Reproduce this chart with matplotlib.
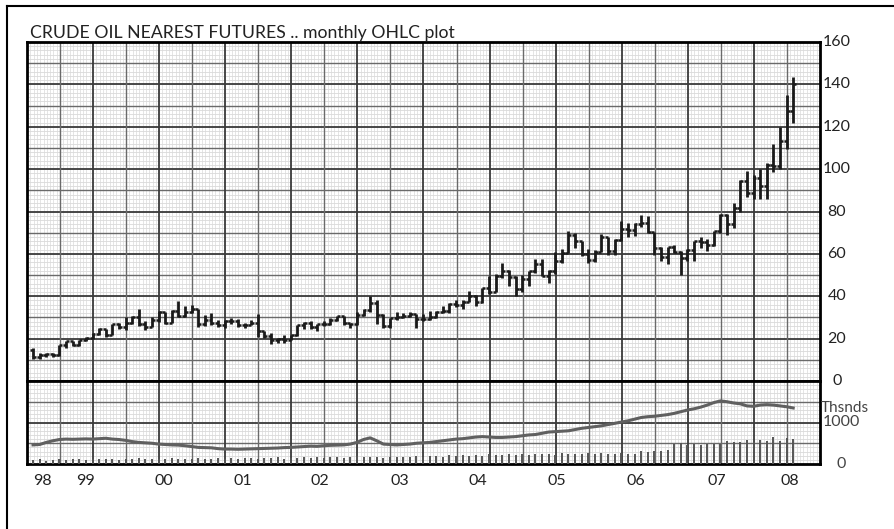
import numpy as np
import matplotlib
matplotlib.use('Agg')
import matplotlib.pyplot as plt
from matplotlib.lines import Line2D

plt.rcParams['font.family'] = ['Lato', 'DejaVu Sans']

# monthly OHLC, Nov 1998 .. Jun 2008
opens = [14.5, 11.2,
         12.1, 12.7, 12.3, 16.8, 18.7, 16.8, 19.3, 20.5, 22.1, 24.5, 21.8, 26.8,
         25.6, 27.6, 30.4, 26.9, 25.7, 29.0, 32.5, 27.4, 33.1, 30.8, 32.7, 33.8,
         26.8, 28.7, 27.4, 26.3, 28.5, 28.4, 26.3, 26.4, 27.2, 23.4, 21.2, 19.4,
         19.8, 19.5, 21.7, 26.3, 27.3, 25.3, 26.9, 27.0, 29.0, 30.5, 27.2, 26.9,
         31.2, 33.5, 36.6, 31.0, 25.8, 29.6, 30.2, 30.5, 31.6, 29.2, 29.1, 30.4,
         32.5, 33.1, 36.2, 35.8, 37.4, 39.9, 37.1, 43.8, 42.1, 49.6, 51.8, 49.1,
         43.5, 48.2, 51.8, 55.4, 49.7, 52.0, 56.5, 60.6, 68.9, 66.2, 59.8, 57.3,
         61.0, 67.9, 61.4, 66.6, 71.9, 71.3, 73.9, 74.4, 70.3, 62.9, 58.7, 63.1,
         61.1, 58.1, 61.8, 65.9, 65.7, 64.0, 70.7, 78.2, 74.0, 81.7, 94.5, 88.7,
         96.0, 91.8, 101.8, 101.6, 113.5, 127.4]
highs = [15.6, 13.0,
         13.3, 13.0, 16.9, 18.9, 18.8, 19.4, 20.8, 22.5, 25.0, 24.6, 27.0, 27.2,
         30.0, 30.9, 34.1, 28.4, 30.0, 33.0, 32.8, 33.4, 37.8, 35.6, 35.9, 34.2,
         31.0, 32.2, 28.8, 28.8, 29.8, 29.2, 27.6, 28.7, 31.5, 23.6, 22.6, 20.5,
         21.8, 21.8, 26.4, 27.9, 28.4, 27.0, 28.2, 29.9, 30.8, 30.9, 27.4, 32.7,
         34.0, 40.0, 38.0, 31.5, 29.9, 32.4, 32.1, 32.8, 31.8, 31.7, 33.1, 33.2,
         35.3, 37.0, 38.4, 38.2, 42.3, 40.6, 44.1, 49.4, 50.5, 55.7, 52.3, 49.5,
         49.9, 52.1, 57.6, 57.7, 52.6, 60.9, 62.3, 70.9, 69.8, 66.3, 62.1, 61.9,
         69.2, 68.1, 67.2, 75.4, 74.8, 74.4, 78.4, 77.7, 70.4, 63.1, 63.2, 64.0,
         61.2, 62.2, 66.3, 68.1, 66.8, 70.9, 78.8, 78.8, 84.1, 94.7, 99.3, 97.0,
         100.1, 103.0, 111.8, 119.9, 135.1, 143.7]
lows = [10.4, 10.5,
        11.3, 11.4, 12.0, 15.7, 16.5, 16.5, 18.9, 19.8, 21.5, 20.7, 21.6, 24.5,
        24.2, 27.1, 26.0, 23.9, 25.5, 28.0, 27.1, 27.2, 30.0, 30.2, 32.0, 25.3,
        25.9, 26.5, 25.3, 24.8, 26.7, 25.5, 24.9, 26.2, 21.0, 20.5, 17.5, 17.8,
        17.9, 19.3, 21.2, 24.5, 24.7, 23.8, 25.8, 26.2, 28.5, 26.6, 25.0, 26.3,
        30.5, 32.8, 26.8, 24.8, 25.1, 28.7, 29.6, 30.0, 25.0, 28.2, 28.8, 29.7,
        32.3, 32.0, 35.0, 33.8, 37.1, 35.2, 37.0, 41.0, 42.1, 48.4, 45.0, 40.3,
        42.1, 45.0, 51.0, 49.5, 46.2, 50.6, 55.7, 60.3, 62.8, 59.0, 55.9, 56.3,
        60.8, 59.3, 59.7, 66.3, 68.0, 68.3, 72.5, 69.9, 59.5, 56.6, 55.3, 60.5,
        49.9, 56.8, 56.6, 62.9, 61.3, 63.8, 69.9, 69.0, 72.2, 79.8, 87.0, 85.9,
        86.1, 86.1, 98.7, 100.0, 109.7, 122.0]
closes = [11.2, 12.1,
          12.7, 12.3, 16.8, 18.7, 16.8, 19.3, 20.5, 22.1, 24.5, 21.8, 26.8, 25.6,
          27.6, 30.4, 26.9, 25.7, 29.0, 32.5, 27.4, 33.1, 30.8, 32.7, 33.8, 26.8,
          28.7, 27.4, 26.3, 28.5, 28.4, 26.3, 26.4, 27.2, 23.4, 21.2, 19.4, 19.8,
          19.5, 21.7, 26.3, 27.3, 25.3, 26.9, 27.0, 29.0, 30.5, 27.2, 26.9, 31.2,
          33.5, 36.6, 31.0, 25.8, 29.6, 30.2, 30.5, 31.6, 29.2, 29.1, 30.4, 32.5,
          33.1, 36.2, 35.8, 37.4, 39.9, 37.1, 43.8, 42.1, 49.6, 51.8, 49.1, 43.5,
          48.2, 51.8, 55.4, 49.7, 52.0, 56.5, 60.6, 68.9, 66.2, 59.8, 57.3, 61.0,
          67.9, 61.4, 66.6, 71.9, 71.3, 73.9, 74.4, 70.3, 62.9, 58.7, 63.1, 61.1,
          58.1, 61.8, 65.9, 65.7, 64.0, 70.7, 78.2, 74.0, 81.7, 94.5, 88.7, 96.0,
          91.8, 101.8, 101.6, 113.5, 127.4, 140.0]

# open interest and volume, thousands
open_int = [460, 470, 520, 560, 590, 600, 595, 600, 605, 600, 610, 620,
            600, 590, 570, 540, 520, 510, 500, 480, 470, 460, 455, 440,
            420, 400, 395, 390, 370, 360, 360, 355, 360, 365, 370, 375,
            380, 385, 395, 400, 410, 420, 430, 425, 440, 450, 455, 460,
            480, 520, 590, 630, 560, 480, 470, 460, 470, 480, 500, 510,
            520, 540, 560, 580, 600, 610, 630, 650, 660, 650, 640, 640,
            650, 660, 680, 700, 710, 740, 770, 780, 790, 800, 830, 860,
            880, 900, 920, 950, 980, 1010, 1040, 1080, 1120, 1140, 1150, 1170,
            1190, 1220, 1260, 1300, 1330, 1370, 1420, 1480, 1520, 1500, 1470, 1450,
            1400, 1390, 1420, 1430, 1420, 1400, 1380, 1350]
volume = [90, 110, 80, 100, 120, 90, 110, 130, 100, 120, 110, 130,
          120, 100, 130, 110, 140, 120, 110, 130, 120, 140, 110, 130,
          120, 140, 130, 120, 150, 130, 140, 120, 150, 140, 130, 150,
          140, 160, 130, 150, 140, 170, 150, 160, 140, 170, 160, 150,
          180, 190, 170, 160, 180, 150, 170, 160, 180, 170, 190, 180,
          190, 200, 180, 210, 190, 220, 200, 210, 190, 230, 210, 220,
          230, 210, 240, 220, 250, 230, 240, 220, 260, 240, 250, 230,
          260, 240, 270, 250, 230, 260, 250, 240, 310, 300, 320, 310,
          330, 480, 500, 460, 470, 460, 480, 470, 480, 560, 540, 530,
          580, 540, 570, 550, 640, 560, 620, 600]

year_labels = ['98', '99', '00', '01', '02', '03', '04', '05', '06', '07', '08']
year_pos = [1.4, 7.9, 19.8, 31.8, 43.4, 55.5, 67.3, 79.3, 91.2, 103.5, 114.5]
price_ticks = [0, 20, 40, 60, 80, 100, 120, 140, 160]

W, H = 895, 529
fig = plt.figure(figsize=(W / 100, H / 100), dpi=100)
L, R = 27 / W, 820 / W
ax1 = fig.add_axes([L, (H - 381) / H, R - L, (381 - 42) / H])
ax2 = fig.add_axes([L, (H - 464) / H, R - L, (464 - 381) / H])

x = np.arange(len(closes))
xmin, xmax = -0.91, 119.06

def paper(ax, ymax, step, minor):
    # graph-paper background: fine grid plus alternating heavier lines
    ax.set_xlim(xmin, xmax)
    ax.set_ylim(0, ymax)
    for v in np.arange(0, ymax + 0.01, minor):
        ax.axhline(v, color='#d2d2d2', lw=0.5, zorder=0)
    for v in np.linspace(xmin, xmax, 241):
        ax.axvline(v, color='#dadada', lw=0.5, zorder=0)
    for k, v in enumerate(np.arange(step, ymax, step)):
        dark = k % 2 == 1
        ax.axhline(v, color='#3a3a3a' if dark else '#6a6a6a',
                   lw=1.3 if dark else 1.0, zorder=1)
    for k, v in enumerate(np.linspace(xmin, xmax, 25)[1:-1]):
        dark = k % 2 == 1
        ax.axvline(v, color='#3a3a3a' if dark else '#6a6a6a',
                   lw=1.3 if dark else 1.0, zorder=1)
    ax.set_xticks([])
    ax.set_yticks([])
    for s in ax.spines.values():
        s.set_linewidth(2)
        s.set_color('black')

paper(ax1, 160, 10, 2)
paper(ax2, 2000, 500, 100)

# OHLC bars
ax1.vlines(x, lows, highs, color='#1a1a1a', lw=2.0, zorder=3)
ax1.hlines(opens, x - 0.45, x, color='#1a1a1a', lw=1.8, zorder=3)
ax1.hlines(closes, x, x + 0.45, color='#1a1a1a', lw=1.8, zorder=3)

# volume and open interest
ax2.vlines(x, 0, volume, color='#555555', lw=1.4, zorder=3)
ax2.plot(x, open_int, color='#606060', lw=2.2, zorder=4)

# right-hand labels
tr1 = ax1.get_yaxis_transform()
for v in price_ticks:
    ax1.text(1.0214, v, str(v), transform=tr1, ha='center', va='center',
             fontsize=11.5, color='#222222', clip_on=False)
tr2 = ax2.get_yaxis_transform()
ax2.text(1.0005, 1340, 'Thsnds', transform=tr2, ha='left', va='center',
         fontsize=11, color='#444444', clip_on=False)
ax2.text(1.0265, 1000, '1000', transform=tr2, ha='center', va='center',
         fontsize=11.5, color='#444444', clip_on=False)
ax2.text(1.0265, 0, '0', transform=tr2, ha='center', va='center',
         fontsize=11.5, color='#444444', clip_on=False)

# year labels
trx = ax2.get_xaxis_transform()
for p, lab in zip(year_pos, year_labels):
    ax2.text(p, -0.205, lab, transform=trx, ha='center', va='center',
             fontsize=11.5, color='#222222', clip_on=False)

fig.text(30 / W, (H - 38) / H, 'CRUDE OIL NEAREST FUTURES .. monthly OHLC plot',
         ha='left', va='baseline', fontsize=12.7, color='#222222')

# outer frame
fig.add_artist(Line2D([7 / W, 1], [1 - 6 / H] * 2, transform=fig.transFigure,
                      color='black', lw=1.5))
fig.add_artist(Line2D([7 / W] * 2, [0, 1 - 6 / H], transform=fig.transFigure,
                      color='black', lw=1.5))

fig.savefig('out.png', dpi=100)
